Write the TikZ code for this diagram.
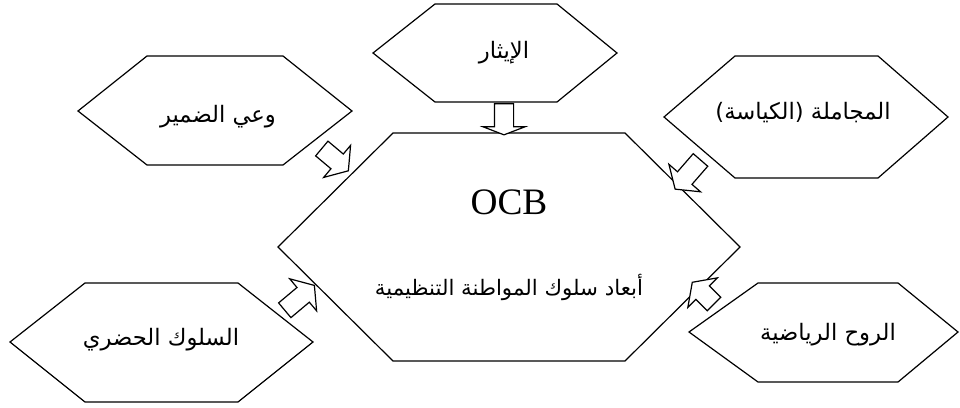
\documentclass[tikz,border=0pt]{standalone}
\usepackage{fontspec}
\setmainfont{Liberation Serif}
\newfontfamily\arabicfont[Script=Arabic]{DejaVu Sans}
\TeXXeTstate=1
\usetikzlibrary{shapes.arrows}
\tikzset{
  hexline/.style={draw=black, line width=0.9pt, line join=miter},
  lbl/.style={inner sep=0pt, font=\arabicfont\fontsize{17}{20}\selectfont},
  blockarr/.style={single arrow, draw=black, line width=0.9pt, fill=white,
    inner xsep=0pt, inner ysep=6.75pt, single arrow head extend=8.5pt,
    single arrow tip angle=110, outer sep=0pt}
}
\begin{document}
\begin{tikzpicture}[x=0.75pt,y=-0.75pt]
\useasboundingbox (0,0) rectangle (960,407);
% hexagons
\draw[hexline] (393,133) -- (625,133) -- (740,247) -- (625,361) -- (393,361) -- (278,247) -- cycle;
\draw[hexline] (435,4) -- (557,4) -- (617,53) -- (557,102) -- (435,102) -- (373,53) -- cycle;
\draw[hexline] (147,56) -- (283,56) -- (352,111) -- (283,165) -- (147,165) -- (78,111) -- cycle;
\draw[hexline] (735,56) -- (878,56) -- (948,117) -- (878,178) -- (735,178) -- (664,117) -- cycle;
\draw[hexline] (85,283) -- (238,283) -- (313,342) -- (238,402) -- (85,402) -- (10,342) -- cycle;
\draw[hexline] (758,283) -- (898,283) -- (958,332) -- (898,382) -- (758,382) -- (689,332) -- cycle;
% texts
\node[inner sep=0pt, font=\fontsize{28}{32}\selectfont] (ocb) at (509,202) {OCB};
\node[lbl, font=\arabicfont\fontsize{16}{19}\selectfont] (main) at (509,287) {\beginR أبعاد سلوك المواطنة التنظيمية\endR};
\node[lbl] (ithar) at (504,53) {\beginR الإيثار\endR};
\node[lbl] (damir) at (218,117) {\beginR وعي الضمير\endR};
\node[lbl] (mujamala) at (803,113) {\beginR المجاملة (الكياسة)\endR};
\node[lbl] (hadari) at (161,340) {\beginR السلوك الحضري\endR};
\node[lbl] (riyadi) at (828,335) {\beginR الروح الرياضية\endR};
% block arrows
\node[blockarr, minimum height=23.25pt, single arrow tip angle=138, rotate=-90] (a1) at (504,117.5) {};
\node[blockarr, minimum height=26pt, rotate=-40] (a2) at (332.5,157.5) {};
\node[blockarr, minimum height=29pt, rotate=-131] (a3) at (690,172) {};
\node[blockarr, minimum height=29pt, rotate=40] (a4) at (297,300) {};
\node[blockarr, minimum height=23pt, rotate=135] (a5) at (705.5,295.5) {};
\end{tikzpicture}
\end{document}
